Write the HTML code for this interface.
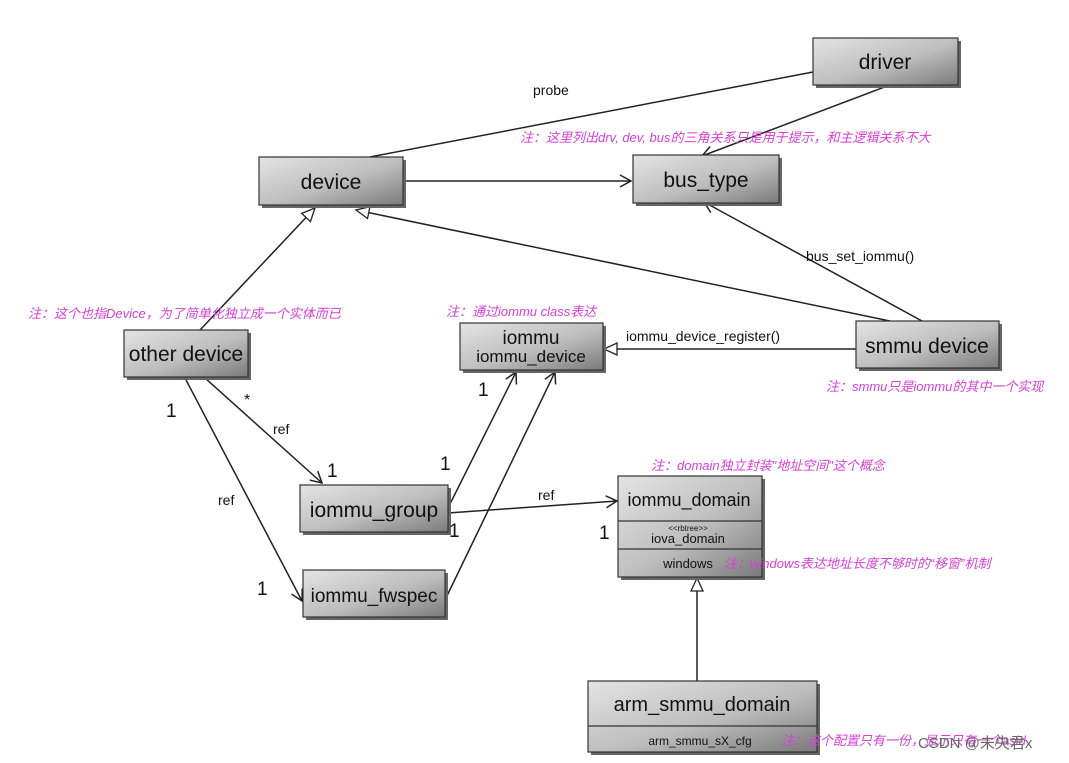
<!DOCTYPE html>
<html><head><meta charset="utf-8"><style>
html,body{margin:0;padding:0;background:#fff;}
svg{display:block;}
.t{font-family:"Liberation Sans","Noto Sans CJK SC",sans-serif;fill:#111;}
.n{font-family:"Liberation Sans","Noto Sans CJK SC",sans-serif;fill:#d63fd6;font-style:italic;font-size:13px;}
</style></head><body>
<svg width="1069" height="763" viewBox="0 0 1069 763" xmlns="http://www.w3.org/2000/svg">
<defs>
<linearGradient id="g" x1="0" y1="0" x2="1" y2="1">
<stop offset="0" stop-color="#e4e4e4"/><stop offset="0.55" stop-color="#bdbdbd"/><stop offset="1" stop-color="#7a7a7a"/>
</linearGradient>
<marker id="oa" markerWidth="14" markerHeight="14" refX="12" refY="7" orient="auto" markerUnits="userSpaceOnUse">
<path d="M1,1 L12,7 L1,13" fill="none" stroke="#222" stroke-width="1.5"/></marker>
<marker id="tri" markerWidth="16" markerHeight="16" refX="14" refY="8" orient="auto" markerUnits="userSpaceOnUse">
<path d="M1,2 L14,8 L1,14 Z" fill="#fff" stroke="#222" stroke-width="1.3"/></marker>
</defs>
<g fill="none" stroke="#222" stroke-width="1.5">
<line x1="370" y1="157" x2="813" y2="72"/>
<line x1="890" y1="85" x2="702" y2="156" marker-end="url(#oa)"/>
<line x1="403" y1="181" x2="631" y2="181" marker-end="url(#oa)"/>
<line x1="200" y1="330" x2="315" y2="208" marker-end="url(#tri)"/>
<line x1="890" y1="321" x2="356" y2="210" marker-end="url(#tri)"/>
<line x1="922" y1="321" x2="704" y2="202" marker-end="url(#oa)"/>
<line x1="856" y1="349" x2="604" y2="349" marker-end="url(#tri)"/>
<line x1="205" y1="378" x2="322" y2="483" marker-end="url(#oa)"/>
<line x1="185" y1="378" x2="302" y2="601" marker-end="url(#oa)"/>
<line x1="448" y1="508" x2="516" y2="372" marker-end="url(#oa)"/>
<line x1="445" y1="600" x2="555" y2="372" marker-end="url(#oa)"/>
<line x1="448" y1="513" x2="617" y2="501" marker-end="url(#oa)"/>
<line x1="697" y1="681" x2="697" y2="578" marker-end="url(#tri)"/>
</g>
<g stroke="#333" stroke-width="1.2" fill="url(#g)">
<rect x="816" y="41" width="145" height="47" fill="#666" stroke="none"/>
<rect x="813" y="38" width="145" height="47"/>
<rect x="262" y="160" width="144" height="48" fill="#666" stroke="none"/>
<rect x="259" y="157" width="144" height="48"/>
<rect x="636" y="158" width="146" height="48" fill="#666" stroke="none"/>
<rect x="633" y="155" width="146" height="48"/>
<rect x="127" y="333" width="124" height="47" fill="#666" stroke="none"/>
<rect x="124" y="330" width="124" height="47"/>
<rect x="463" y="326" width="143" height="47" fill="#666" stroke="none"/>
<rect x="460" y="323" width="143" height="47"/>
<rect x="859" y="324" width="143" height="47" fill="#666" stroke="none"/>
<rect x="856" y="321" width="143" height="47"/>
<rect x="303" y="488" width="148" height="47" fill="#666" stroke="none"/>
<rect x="300" y="485" width="148" height="47"/>
<rect x="306" y="573" width="142" height="47" fill="#666" stroke="none"/>
<rect x="303" y="570" width="142" height="47"/>
<rect x="621" y="479" width="144" height="101" fill="#666" stroke="none"/>
<rect x="618" y="476" width="144" height="101"/>
<rect x="591" y="684" width="229" height="71" fill="#666" stroke="none"/>
<rect x="588" y="681" width="229" height="71"/>
</g>
<g stroke="#333" stroke-width="1.2">
<line x1="618" y1="521" x2="762" y2="521"/>
<line x1="618" y1="549" x2="762" y2="549"/>
<line x1="588" y1="726" x2="817" y2="726"/>
</g>
<g class="t" text-anchor="middle">
<text x="885" y="69" font-size="21">driver</text>
<text x="331" y="189" font-size="21">device</text>
<text x="706" y="187" font-size="21">bus_type</text>
<text x="186" y="361" font-size="21">other device</text>
<text x="531" y="344" font-size="19">iommu</text>
<text x="531" y="362" font-size="17">iommu_device</text>
<text x="927" y="353" font-size="21">smmu device</text>
<text x="374" y="517" font-size="21">iommu_group</text>
<text x="374" y="602" font-size="19">iommu_fwspec</text>
<text x="689" y="506" font-size="18">iommu_domain</text>
<text x="688" y="531" font-size="8">&lt;&lt;rbtree&gt;&gt;</text>
<text x="688" y="543" font-size="13">iova_domain</text>
<text x="688" y="568" font-size="13">windows</text>
<text x="702" y="711" font-size="20">arm_smmu_domain</text>
<text x="700" y="745" font-size="12">arm_smmu_sX_cfg</text>
</g>
<g class="t" font-size="14">
<text x="533" y="95">probe</text>
<text x="806" y="261">bus_set_iommu()</text>
<text x="626" y="341">iommu_device_register()</text>
<text x="273" y="434">ref</text>
<text x="218" y="505">ref</text>
<text x="538" y="500">ref</text>
<text x="244" y="405" font-size="16">*</text>
</g>
<g class="t" font-size="19">
<text x="166" y="417">1</text>
<text x="327" y="477">1</text>
<text x="257" y="595">1</text>
<text x="440" y="470">1</text>
<text x="478" y="396">1</text>
<text x="449" y="537">1</text>
<text x="599" y="539">1</text>
</g>
<g class="n">
<text x="520" y="142">注：这里列出drv, dev, bus的三角关系只是用于提示，和主逻辑关系不大</text>
<text x="28" y="318">注：这个也指Device，为了简单化独立成一个实体而已</text>
<text x="446" y="316">注：通过iommu class表达</text>
<text x="826" y="391">注：smmu只是iommu的其中一个实现</text>
<text x="651" y="470">注：domain独立封装"地址空间"这个概念</text>
<text x="724" y="568">注：windows表达地址长度不够时的“移窗”机制</text>
<text x="781" y="745">注：这个配置只有一份，显示只有一个asid</text>
</g>
<text x="918" y="748" font-family="Liberation Sans","Noto Sans CJK SC",sans-serif font-size="15" fill="#666">CSDN @未央君x</text>
</svg>
</body></html>
